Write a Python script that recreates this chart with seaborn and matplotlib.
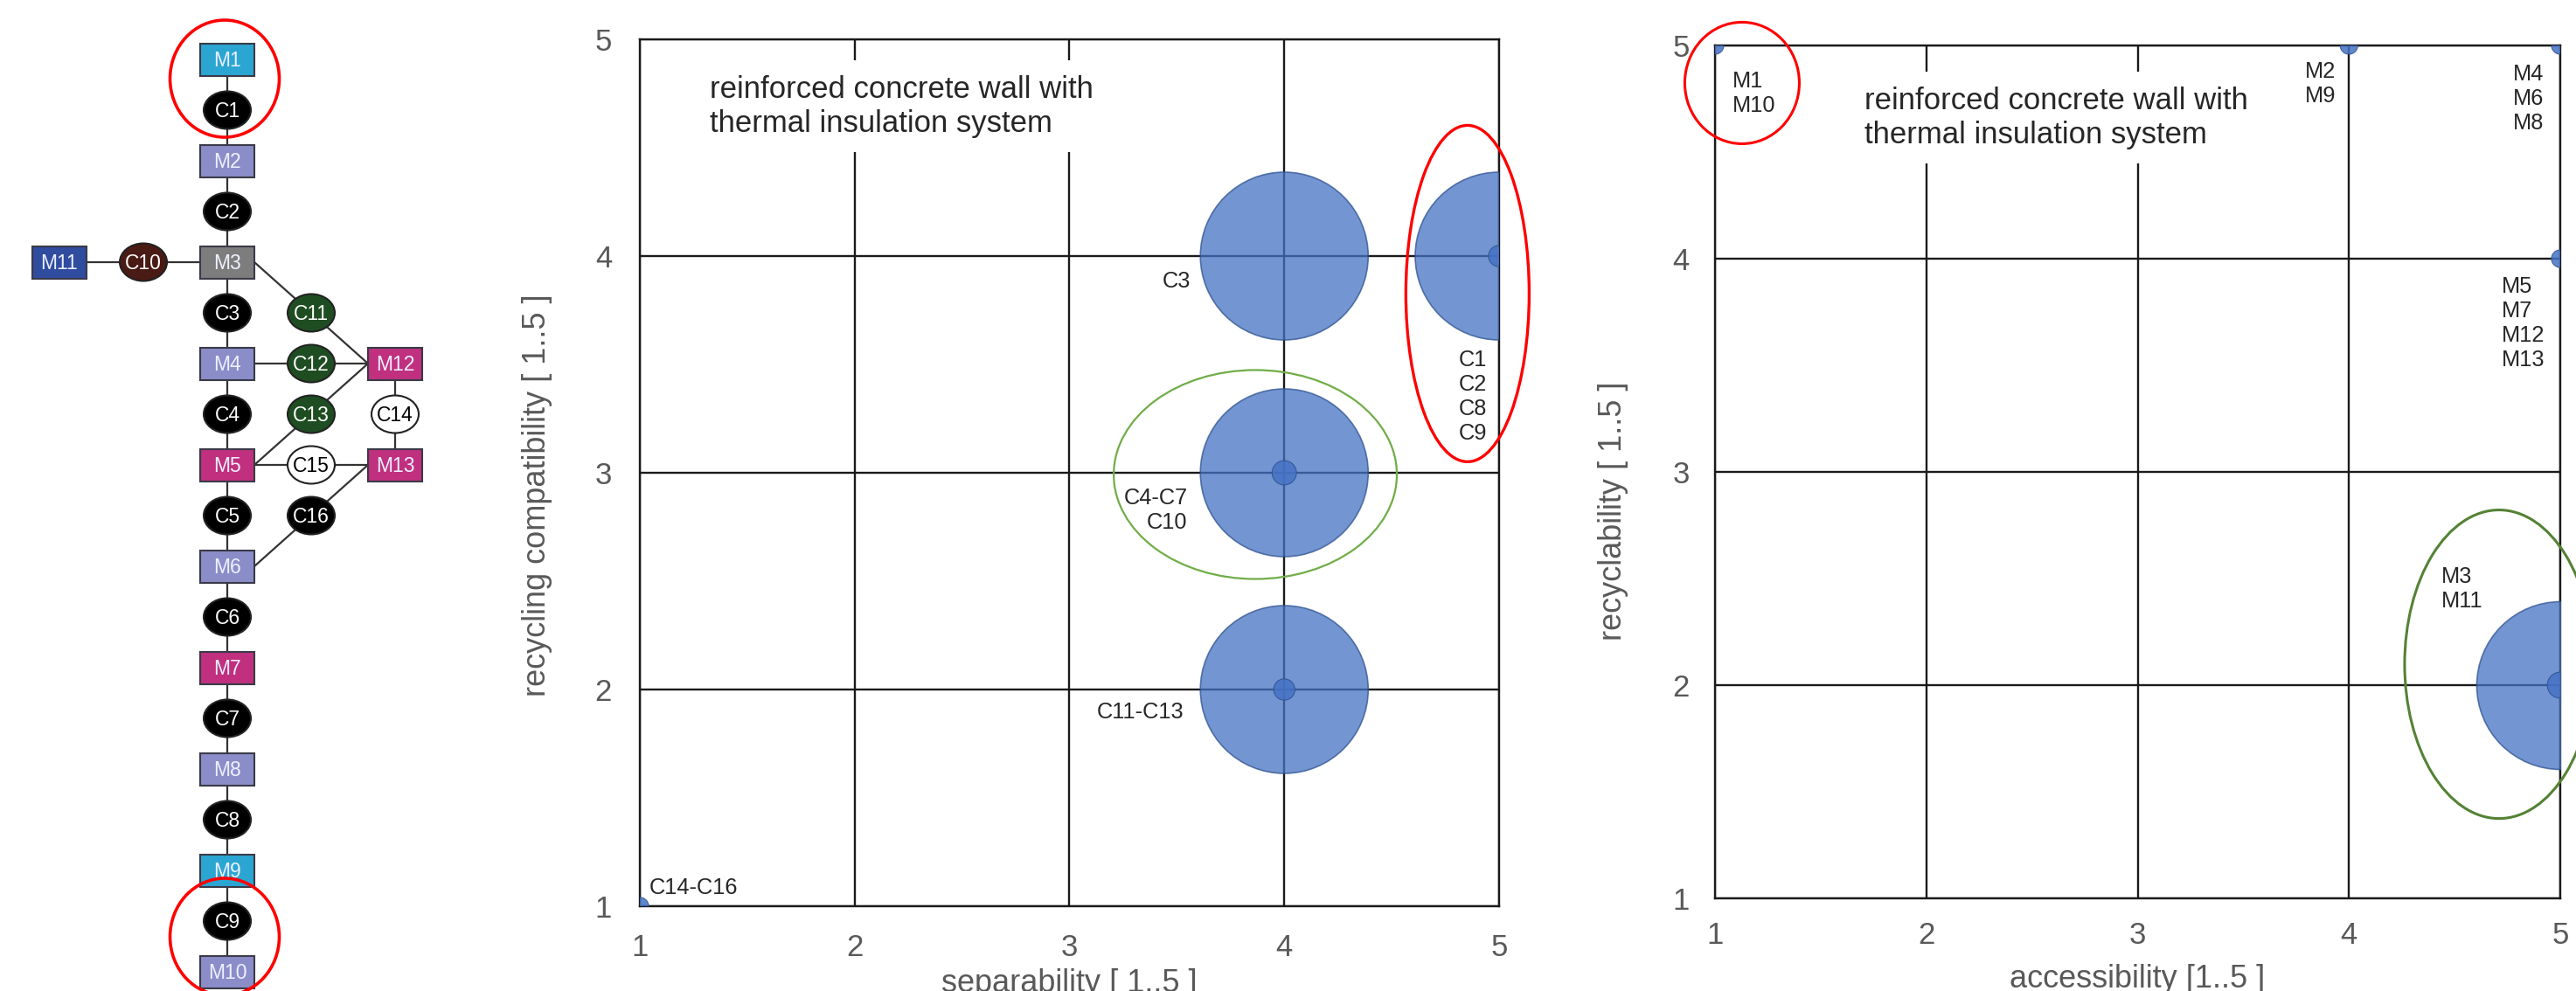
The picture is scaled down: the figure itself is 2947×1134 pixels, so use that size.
# Bubble charts: separability / recycling compatibility of connections and
# accessibility / recyclability of materials, next to the wall layer graph

import pandas as pd
import matplotlib.pyplot as plt
import seaborn as sns
from matplotlib.patches import Ellipse, Rectangle

# connections (middle chart)
conn_sep = [5, 4, 4, 4, 5, 4, 4, 1]
conn_comp = [4, 4, 3, 2, 4, 3, 2, 1]
conn_weight = [100, 100, 100, 100, 1.6, 2.1, 1.6, 1.1]
conn_groups = ["C1\nC2\nC8\nC9", "C3", "C4-C7\nC10", "C11-C13", "C14-C16"]

# materials (right chart)
mat_access = [5, 5, 1, 4, 5, 5]
mat_recycl = [2, 2, 5, 5, 5, 4]
mat_weight = [100, 2.4, 1.1, 1.1, 1.1, 1.1]
mat_groups = ["M3\nM11", "M1\nM10", "M2\nM9", "M4\nM6\nM8", "M5\nM7\nM12\nM13"]

ticks = [1, 2, 3, 4, 5]

# layer graph (left)
chain = ["M1", "C1", "M2", "C2", "M3", "C3", "M4", "C4", "M5", "C5",
         "M6", "C6", "M7", "C7", "M8", "C8", "M9", "C9", "M10"]
side_nodes = {"M11": (-2, 4), "C10": (-1, 4), "C11": (1, 5), "C12": (1, 6),
              "C13": (1, 7), "C15": (1, 8), "C16": (1, 9), "M12": (2, 6),
              "C14": (2, 7), "M13": (2, 8)}
links = [("M11", "C10"), ("C10", "M3"), ("M3", "C11"), ("C11", "M12"),
         ("M4", "C12"), ("C12", "M12"), ("M5", "C13"), ("C13", "M12"),
         ("M12", "C14"), ("C14", "M13"), ("M5", "C15"), ("C15", "M13"),
         ("M6", "C16"), ("C16", "M13")]

node_colors = {"M1": "#2ba6d3", "M9": "#2ba6d3", "M3": "#7d7d7d", "M11": "#2f4c9f",
               "M5": "#c0307f", "M7": "#c0307f", "M12": "#c0307f", "M13": "#c0307f",
               "C10": "#4a1a14", "C11": "#1f4d22", "C12": "#1f4d22", "C13": "#1f4d22",
               "C14": "white", "C15": "white"}
for n in ["M2", "M4", "M6", "M8", "M10"]:
    node_colors[n] = "#8a8dc8"

sns.set_style("white")
plt.rcParams['font.family'] = ['Liberation Sans', 'DejaVu Sans']

fig = plt.figure(figsize=(29.47, 11.34), dpi=100)
W, H = 2947, 1134

# ---------------- left: layer graph ----------------
axg = fig.add_axes([0, 0, 560 / W, 1])
axg.set_xlim(0, 560)
axg.set_ylim(H, 0)
axg.axis("off")

pos = {}
for i, n in enumerate(chain):
    pos[n] = (260, 68 + 58 * i)
for n, (c, r) in side_nodes.items():
    pos[n] = (260 + 96 * c, 68 + 58 * r)

rw, rh = 62, 37
ew, eh = 54, 43


def anchor(a, b):
    xa, ya = pos[a]
    xb, yb = pos[b]
    if a.startswith("M") and xa != xb:
        xa += rw / 2 if xb > xa else -rw / 2
    return xa, ya


links_all = list(zip(chain[:-1], chain[1:])) + links
for a, b in links_all:
    p1 = anchor(a, b)
    p2 = anchor(b, a)
    axg.plot([p1[0], p2[0]], [p1[1], p2[1]], color="#333333", lw=1.6, zorder=1)

for n, (x, y) in pos.items():
    col = node_colors.get(n, "black")
    if n.startswith("M"):
        axg.add_patch(Rectangle((x - rw / 2, y - rh / 2), rw, rh, facecolor=col,
                                edgecolor="#3a3a48", lw=1.5, zorder=2))
        tc = "#eef0ff"
    else:
        axg.add_patch(Ellipse((x, y), ew, eh, facecolor=col, edgecolor="#222222",
                              lw=1.5, zorder=2))
        tc = "black" if col == "white" else "white"
    axg.text(x, y + 1, n, ha="center", va="center", fontsize=16.5, color=tc, zorder=3)

for cy in [90, 1072]:
    axg.add_patch(Ellipse((257, cy), 125, 134, fill=False, edgecolor="#ff0000",
                          lw=2.6, zorder=4, clip_on=False))


# ---------------- bubble charts ----------------
A_MAX = (2 * 96 * 0.72) ** 2


def bubbles(ax, xs, ys, ws):
    df = pd.DataFrame({"x": xs, "y": ys, "w": ws})
    big = df[df["w"] >= 10]
    small = df[df["w"] < 10]
    sns.scatterplot(data=big, x="x", y="y", size="w",
                    sizes={w: w / 100 * A_MAX for w in big["w"].unique()},
                    color="#4472c4", alpha=0.75, edgecolor="#2f528f", linewidth=1.2,
                    legend=False, ax=ax, zorder=3)
    sns.scatterplot(data=small, x="x", y="y", size="w",
                    sizes={w: w / 100 * A_MAX for w in small["w"].unique()},
                    color="#4472c4", alpha=0.85, edgecolor="#2f528f", linewidth=0.8,
                    legend=False, ax=ax, zorder=4)


def style(ax, xlabel, ylabel, xl_y, yl_x, yl_y, xpad, ypad):
    ax.set_xlim(1, 5)
    ax.set_ylim(1, 5)
    ax.set_xticks(ticks)
    ax.set_yticks(ticks)
    ax.grid(True, color="#1a1a1a", lw=1.7, zorder=1)
    ax.set_axisbelow(True)
    for s in ax.spines.values():
        s.set_color("#1a1a1a")
        s.set_linewidth(1.7)
    ax.tick_params(length=0, labelsize=25, labelcolor="#595959")
    ax.tick_params(axis="x", pad=xpad)
    ax.tick_params(axis="y", pad=ypad)
    ax.set_xlabel(xlabel, fontsize=26, color="#595959")
    ax.set_ylabel(ylabel, fontsize=26, color="#595959")
    ax.xaxis.set_label_coords(0.5, xl_y)
    ax.yaxis.set_label_coords(yl_x, yl_y)


title = "reinforced concrete wall with\nthermal insulation system"

# middle: connections
ax1 = fig.add_axes([732 / W, 1 - 1037 / H, 983 / W, 992 / H])
bubbles(ax1, conn_sep, conn_comp, conn_weight)
style(ax1, "separability [ 1..5 ]", "recycling compatibility [ 1..5 ]",
      -0.072, -0.102, 0.474, 22, 23)
ax1.text(1.326, 4.69, title, fontsize=25, ha="left", va="center", linespacing=1.22,
         bbox=dict(facecolor="white", edgecolor="none", pad=12), zorder=5)
conn_places = [(4.943, 3.35, "right"), (3.565, 3.883, "right"), (3.549, 2.827, "right"),
               (3.533, 1.895, "right"), (1.045, 1.085, "left")]
for (x, y, ha), t in zip(conn_places, conn_groups):
    ax1.text(x, y, t, fontsize=18.3, ha=ha, va="center", linespacing=1.22, zorder=6)
ax1.add_patch(Ellipse((4.853, 3.827), 0.574, 1.552, fill=False, edgecolor="#ff0000",
                      lw=2.4, clip_on=False, zorder=7))
ax1.add_patch(Ellipse((3.865, 2.992), 1.318, 0.964, fill=False, edgecolor="#70ad47",
                      lw=1.6, clip_on=False, zorder=7))

# right: materials
ax2 = fig.add_axes([1962 / W, 1 - 1028 / H, 967 / W, 976 / H])
bubbles(ax2, mat_access, mat_recycl, mat_weight)
style(ax2, "accessibility [1..5 ]", "recyclability [ 1..5 ]",
      -0.077, -0.102, 0.454, 19, 21)
ax2.text(1.707, 4.66, title, fontsize=25, ha="left", va="center", linespacing=1.22,
         bbox=dict(facecolor="white", edgecolor="none", pad=12), zorder=5)
mat_places = [(4.437, 2.45), (1.083, 4.775), (3.793, 4.82), (4.777, 4.75), (4.723, 3.697)]
for (x, y), t in zip(mat_places, mat_groups):
    ax2.text(x, y, t, fontsize=18.3, ha="left", va="center", linespacing=1.22, zorder=6)
ax2.add_patch(Ellipse((1.128, 4.824), 0.542, 0.570, fill=False, edgecolor="#ff0000",
                      lw=2.2, clip_on=False, zorder=7))
ax2.add_patch(Ellipse((4.710, 2.098), 0.893, 1.447, fill=False, edgecolor="#548235",
                      lw=2.2, clip_on=False, zorder=7))

fig.savefig("out.png", dpi=100)
